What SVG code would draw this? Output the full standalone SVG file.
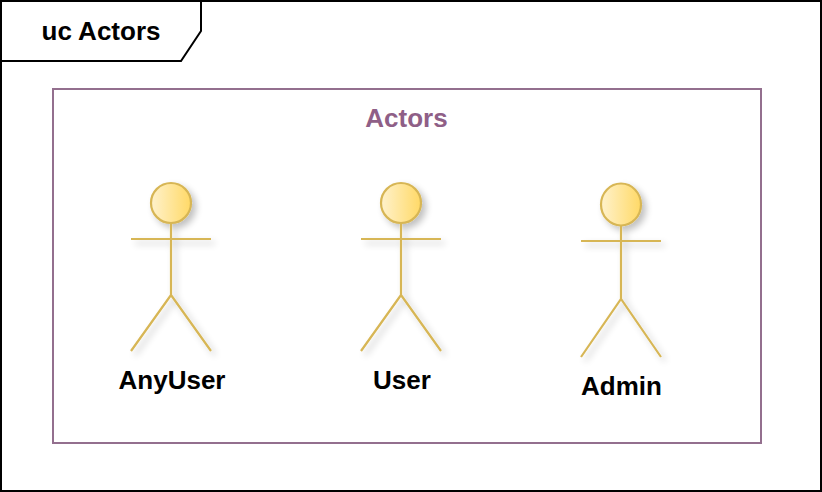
<svg xmlns="http://www.w3.org/2000/svg" width="822" height="492" viewBox="0 0 822 492">
<style>
text{font-family:"Liberation Sans",Arial,sans-serif;font-weight:bold;text-anchor:middle}
.lbl{font-size:26px;fill:#000}
.st{stroke:#D7B655;stroke-width:2.2;fill:none}
.hd{stroke:#D7B655;stroke-width:2.2;fill:url(#g)}
</style>
<defs>
<linearGradient id="g" x1="0" y1="0" x2="1" y2="0"><stop offset="0" stop-color="#FFF2CC"/><stop offset="1" stop-color="#FFD966"/></linearGradient>
<filter id="s" x="-30%" y="-30%" width="170%" height="170%"><feGaussianBlur in="SourceAlpha" stdDeviation="3.5" result="b"/><feOffset in="b" dx="4" dy="4" result="o"/><feComponentTransfer in="o" result="c"><feFuncA type="linear" slope="0.25"/></feComponentTransfer><feMerge><feMergeNode in="c"/><feMergeNode in="SourceGraphic"/></feMerge></filter>
</defs>
<rect width="822" height="492" fill="#fff"/>
<g id="frame">
<rect x="1" y="1" width="820" height="490" fill="none" stroke="#000" stroke-width="2"/>
<path d="M1 61H181L201 31V1" fill="none" stroke="#000" stroke-width="2"/>
<text x="101" y="40" style="font-size:26px">uc Actors</text>
</g>
<g id="boundary">
<rect x="53" y="89" width="708" height="354" fill="none" stroke="#936F8E" stroke-width="2"/>
<text x="406.500" y="127" style="font-size:26px" fill="#8F5F87">Actors</text>
</g>
<g id="AnyUser">
<g filter="url(#s)"><path class="st" d="M171 223V295M131 239H211M131 351L171 295L211 351"/><circle class="hd" cx="171" cy="203" r="20"/></g>
<text class="lbl" x="172" y="389">AnyUser</text>
</g>
<g id="User">
<g filter="url(#s)"><path class="st" d="M401 223V295M361 239H441M361 351L401 295L441 351"/><circle class="hd" cx="401" cy="203" r="20"/></g>
<text class="lbl" x="402" y="389">User</text>
</g>
<g id="Admin">
<g filter="url(#s)"><path class="st" d="M621 225V299M581 241H661M581 357L621 299L661 357"/><ellipse class="hd" cx="621" cy="204.500" rx="20" ry="21"/></g>
<text class="lbl" x="621.500" y="395">Admin</text>
</g>
<g id="connectors"/>
</svg>
